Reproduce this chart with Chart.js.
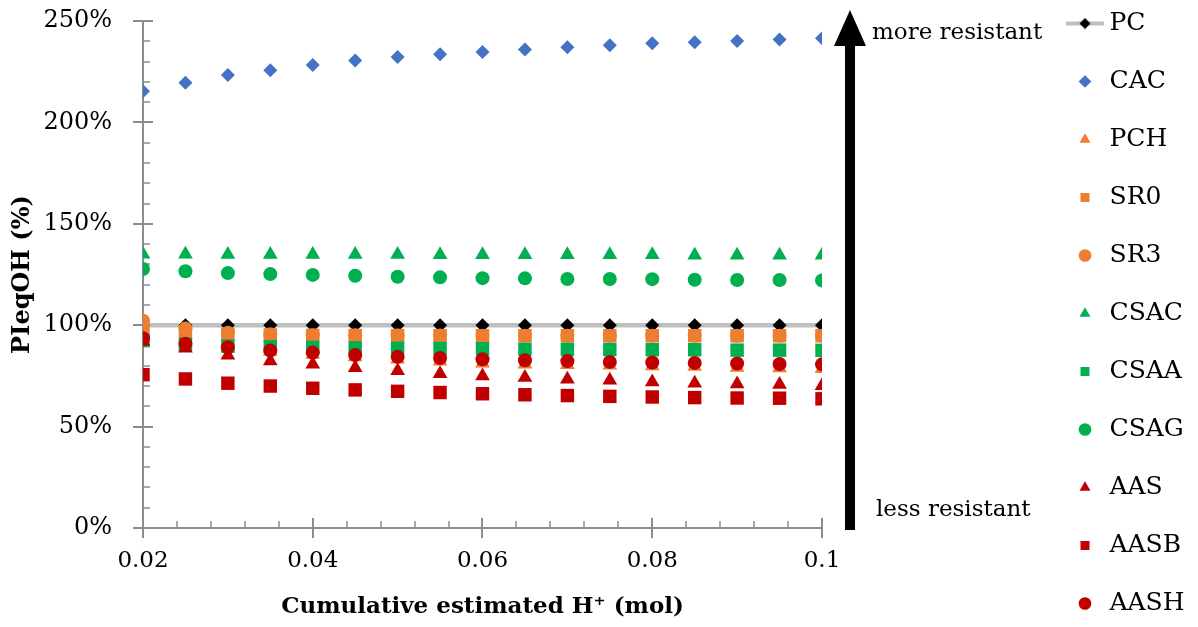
<!DOCTYPE html>
<html><head><meta charset="utf-8">
<script src="https://cdn.jsdelivr.net/npm/chart.js@4.4.1/dist/chart.umd.min.js"></script>
<style>html,body{margin:0;padding:0;background:#fff;overflow:hidden}canvas{display:block}</style>
</head><body>
<canvas id="c" width="1198" height="627"></canvas>
<script>
// ---------- data ----------
const xValues = [0.02,0.025,0.03,0.035,0.04,0.045,0.05,0.055,0.06,0.065,0.07,0.075,0.08,0.085,0.09,0.095,0.1];
const seriesNames = ['PC','CAC','PCH','SR0','SR3','CSAC','CSAA','CSAG','AAS','AASB','AASH'];
const PC   = [100,100,100,100,100,100,100,100,100,100,100,100,100,100,100,100,100];
const CAC  = [215.3,219.6,223.4,225.7,228.3,230.5,232.2,233.6,234.7,235.9,237.1,238.0,239.0,239.5,240.1,240.9,241.5];
const PCH  = [95.0,91.5,88.8,87.0,85.5,84.3,83.2,82.2,81.2,80.8,80.5,80.2,79.9,79.6,79.2,78.9,78.5];
const SR0  = [97.5,96.2,95.6,95.2,95.0,94.9,94.9,94.8,94.8,94.8,94.8,94.8,94.8,94.8,94.8,94.8,94.8];
const SR3  = [102.2,98.4,96.3,95.5,95.1,95.0,94.9,94.9,94.8,94.8,94.8,94.8,94.8,94.8,94.8,94.8,94.8];
const CSAC = [135.0,135.0,134.9,134.9,134.9,134.9,134.9,134.8,134.8,134.8,134.8,134.7,134.7,134.5,134.5,134.5,134.5];
const CSAA = [92.4,90.6,89.7,89.4,89.0,88.8,88.6,88.5,88.4,88.1,88.1,88.0,87.9,87.9,87.7,87.7,87.6];
const CSAG = [127.7,126.6,125.7,125.2,124.8,124.4,123.9,123.6,123.2,123.1,122.8,122.8,122.7,122.4,122.3,122.3,122.1];
const AAS  = [92.0,88.6,85.2,82.4,80.7,79.0,77.5,76.1,75.0,74.2,73.4,72.8,72.0,71.4,71.0,70.7,70.2];
const AASB = [75.6,73.5,71.4,70.0,68.9,68.1,67.4,66.8,66.2,65.7,65.3,64.9,64.6,64.3,64.1,64.0,63.7];
const AASH = [93.6,90.9,89.1,87.5,86.5,85.3,84.4,83.8,83.2,82.7,82.3,81.9,81.6,81.4,81.1,80.9,80.7];
const seriesValues = [PC,CAC,PCH,SR0,SR3,CSAC,CSAA,CSAG,AAS,AASB,AASH];
const xTickValues = [0.02,0.04,0.06,0.08,0.1];
const xTickLabels = ['0.02','0.04','0.06','0.08','0.1'];
const yTickValues = [0,50,100,150,200,250];
const yTickLabels = ['0%','50%','100%','150%','200%','250%'];
const xMinorStep = 0.004;
const yMinorStep = 10;
const xTitle = 'Cumulative estimated H\u207A (mol)';
const yTitle = 'PIeqOH (%)';
const upperNote = 'more resistant';
const lowerNote = 'less resistant';

// ---------- styles ----------
const FONT = '"DejaVu Serif", serif';
const AXIS = '#8c8c8c';
const BLUE = '#4472C4', ORANGE = '#ED7D31', GREEN = '#00B050', RED = '#C00000';
const styles = [
  {color:'#000000', shape:'rectRot', r:7, line:true},
  {color:BLUE,   shape:'rectRot', r:7},
  {color:ORANGE, shape:'triangle', r:8.5},
  {color:ORANGE, shape:'rect', r:9.5},
  {color:ORANGE, shape:'circle', r:7},
  {color:GREEN,  shape:'triangle', r:8.5},
  {color:GREEN,  shape:'rect', r:9.5},
  {color:GREEN,  shape:'circle', r:7},
  {color:RED,    shape:'triangle', r:8.5},
  {color:RED,    shape:'rect', r:9.5},
  {color:RED,    shape:'circle', r:7}
];

Chart.defaults.font.family = FONT;
Chart.defaults.color = '#000';

const datasets = seriesNames.map((name, i) => {
  const st = styles[i];
  return {
    label: name,
    data: xValues.map((x, j) => ({x: x, y: seriesValues[i][j]})),
    showLine: !!st.line,
    borderColor: st.line ? '#BFBFBF' : st.color,
    borderWidth: st.line ? 4.5 : 0,
    backgroundColor: st.color,
    pointBackgroundColor: st.color,
    pointBorderColor: st.color,
    pointBorderWidth: 0,
    pointStyle: st.shape,
    pointRadius: st.r,
    pointHoverRadius: st.r,
    order: seriesNames.length - i
  };
});

function pcLegendIcon() {
  const c = document.createElement('canvas');
  c.width = 38; c.height = 12;
  const g = c.getContext('2d');
  g.strokeStyle = '#BFBFBF'; g.lineWidth = 4;
  g.beginPath(); g.moveTo(0, 6); g.lineTo(38, 6); g.stroke();
  g.fillStyle = '#000';
  g.beginPath(); g.moveTo(19, 0.5); g.lineTo(24.5, 6); g.lineTo(19, 11.5); g.lineTo(13.5, 6); g.closePath(); g.fill();
  return c;
}

const axisTicksPlugin = {
  id: 'axisTicks',
  beforeDatasetsDraw(chart) {
    const {ctx} = chart;
    const x = chart.scales.x, y = chart.scales.y;
    const yb = y.getPixelForValue(y.min), xl = x.getPixelForValue(x.min);
    ctx.save();
    ctx.strokeStyle = AXIS;
    const nx = Math.round((x.max - x.min) / xMinorStep);
    for (let i = 0; i <= nx; i++) {
      const v = x.min + i * xMinorStep;
      const major = xTickValues.some(t => Math.abs(t - v) < 1e-9);
      const px = Math.round(x.getPixelForValue(v));
      ctx.lineWidth = major ? 2 : 1.5;
      ctx.beginPath(); ctx.moveTo(px, yb); ctx.lineTo(px, yb - (major ? 10 : 7)); ctx.stroke();
    }
    const ny = Math.round((y.max - y.min) / yMinorStep);
    for (let i = 0; i <= ny; i++) {
      const v = y.min + i * yMinorStep;
      const major = yTickValues.some(t => Math.abs(t - v) < 1e-9);
      const py = Math.round(y.getPixelForValue(v));
      ctx.lineWidth = major ? 2 : 1.5;
      ctx.beginPath(); ctx.moveTo(xl, py); ctx.lineTo(xl + (major ? 10 : 7), py); ctx.stroke();
    }
    ctx.restore();
  }
};

const arrowPlugin = {
  id: 'arrowNote',
  afterDraw(chart) {
    const {ctx, chartArea} = chart;
    const ax = chartArea.right + 28;
    const tip = chartArea.top - 11;
    const base = tip + 36;
    const bottom = chartArea.bottom + 2;
    ctx.save();
    ctx.fillStyle = '#000';
    ctx.fillRect(ax - 5, base - 1, 10, bottom - base + 1);
    ctx.beginPath(); ctx.moveTo(ax - 16, base); ctx.lineTo(ax + 16, base); ctx.lineTo(ax, tip); ctx.closePath(); ctx.fill();
    ctx.font = '23px ' + FONT;
    ctx.textBaseline = 'middle';
    ctx.textAlign = 'left';
    ctx.fillText(upperNote, ax + 22, chartArea.top + 12);
    ctx.fillText(lowerNote, ax + 26, chartArea.bottom - 18);
    ctx.restore();
  }
};

new Chart(document.getElementById('c'), {
  type: 'scatter',
  data: {datasets},
  plugins: [axisTicksPlugin, arrowPlugin],
  options: {
    responsive: false,
    animation: false,
    devicePixelRatio: 1,
    layout: {padding: {top: -22, bottom: -32, left: 0, right: 8}},
    plugins: {
      tooltip: {enabled: false},
      legend: {
        position: 'right',
        align: 'start',
        maxWidth: 150,
        labels: {
          usePointStyle: true,
          boxWidth: 24,
          boxHeight: 9,
          padding: 33,
          color: '#000',
          font: {family: FONT, size: 25},
          generateLabels(chart) {
            const items = Chart.defaults.plugins.legend.labels.generateLabels(chart);
            items.sort((a, b) => a.datasetIndex - b.datasetIndex);
            items[0].pointStyle = pcLegendIcon();
            return items;
          }
        }
      }
    },
    scales: {
      x: {
        type: 'linear', min: 0.02, max: 0.1,
        afterBuildTicks(s) { s.ticks = xTickValues.map(v => ({value: v})); },
        afterFit(s) { s.height = 131; },
        border: {display: true, color: AXIS, width: 2},
        grid: {drawOnChartArea: false, drawTicks: true, tickLength: 10, color: AXIS, lineWidth: 2},
        ticks: {
          padding: 9, color: '#000', font: {family: FONT, size: 23},
          callback(v) { const k = xTickValues.findIndex(t => Math.abs(t - v) < 1e-9); return k >= 0 ? xTickLabels[k] : ''; }
        },
        title: {display: true, text: xTitle, color: '#000', font: {family: FONT, size: 23, weight: 'bold'}, padding: {top: 0, bottom: 38}}
      },
      y: {
        type: 'linear', min: 0, max: 250,
        afterBuildTicks(s) { s.ticks = yTickValues.map(v => ({value: v})); },
        afterFit(s) { s.width = 143; },
        border: {display: true, color: AXIS, width: 2},
        grid: {drawOnChartArea: false, drawTicks: true, tickLength: 10, color: AXIS, lineWidth: 2},
        ticks: {
          padding: 21, color: '#000', font: {family: FONT, size: 24, lineHeight: '0px'},
          callback(v) { const k = yTickValues.indexOf(v); return k >= 0 ? yTickLabels[k] : ''; }
        },
        title: {display: true, text: yTitle, color: '#000', font: {family: FONT, size: 24, weight: 'bold'}, padding: {top: 8, bottom: 0}}
      },
      y2: {
        type: 'linear', position: 'right', display: true,
        afterFit(s) { s.width = 218; },
        ticks: {display: false},
        grid: {display: false},
        border: {display: false}
      }
    }
  }
});
</script>
</body></html>
